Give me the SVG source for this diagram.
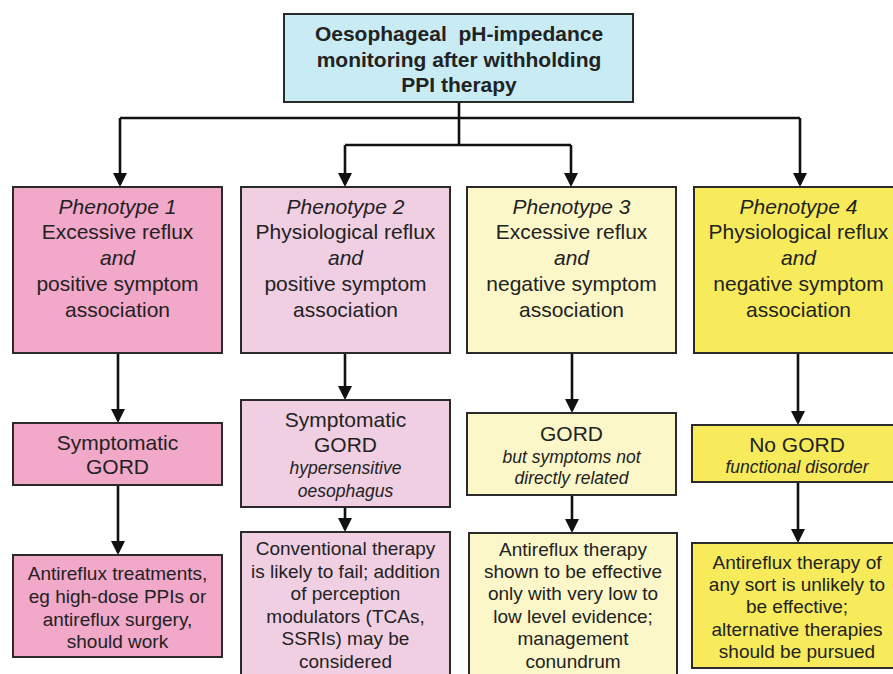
<svg xmlns="http://www.w3.org/2000/svg" width="893" height="674" viewBox="0 0 893 674">
<style>
.box{stroke:#2a2a2a;stroke-width:2}
.t{font-family:"Liberation Sans",Arial,sans-serif;fill:#222;text-anchor:middle}
.b{font-weight:bold;font-size:21px}
.n{font-size:21px}
.i{font-style:italic}
.s{font-size:19px}
.e{font-size:17.5px}
.c{fill:none;stroke:#111;stroke-width:2.6}
.p1{fill:#f2a8c9}.p2{fill:#f1cfe2}.p3{fill:#fbf7c8}.p4{fill:#f7eb5c}.top{fill:#c9ecf4}
</style>
<defs>
<marker id="ah" markerUnits="userSpaceOnUse" markerWidth="14" markerHeight="14" refX="11" refY="7" orient="auto">
<path d="M0,0 L14,7 L0,14 z" fill="#111"/>
</marker>
</defs>
<rect width="893" height="674" fill="#fff"/>

<g id="connectors">
<path class="c" d="M459,102 V145 M120,118 H800 M345,145 H571"/>
<path class="c" d="M120,118 V184" marker-end="url(#ah)"/>
<path class="c" d="M800,118 V184" marker-end="url(#ah)"/>
<path class="c" d="M345,145 V184" marker-end="url(#ah)"/>
<path class="c" d="M571,145 V184" marker-end="url(#ah)"/>
<path class="c" d="M118,353 V420" marker-end="url(#ah)"/>
<path class="c" d="M345,353 V397" marker-end="url(#ah)"/>
<path class="c" d="M572,353 V410" marker-end="url(#ah)"/>
<path class="c" d="M798,353 V422" marker-end="url(#ah)"/>
<path class="c" d="M118,485 V552" marker-end="url(#ah)"/>
<path class="c" d="M345,507 V529" marker-end="url(#ah)"/>
<path class="c" d="M572,495 V530" marker-end="url(#ah)"/>
<path class="c" d="M798,482 V540" marker-end="url(#ah)"/>
</g>

<g id="top">
<rect class="box top" x="284" y="14" width="349" height="88"/>
<text class="t b" x="459" y="41">Oesophageal&#160; pH-impedance</text>
<text class="t b" x="459" y="67">monitoring after withholding</text>
<text class="t b" x="459" y="92">PPI therapy</text>
</g>

<g id="phenotype1">
<rect class="box p1" x="13" y="187" width="209" height="166"/>
<text class="t n i" x="117.5" y="214">Phenotype 1</text>
<text class="t n" x="117.5" y="239">Excessive reflux</text>
<text class="t n i" x="117.5" y="265">and</text>
<text class="t n" x="117.5" y="291">positive symptom</text>
<text class="t n" x="117.5" y="317">association</text>
</g>
<g id="phenotype2">
<rect class="box p2" x="241" y="187" width="209" height="166"/>
<text class="t n i" x="345.5" y="214">Phenotype 2</text>
<text class="t n" x="345.5" y="239">Physiological reflux</text>
<text class="t n i" x="345.5" y="265">and</text>
<text class="t n" x="345.5" y="291">positive symptom</text>
<text class="t n" x="345.5" y="317">association</text>
</g>
<g id="phenotype3">
<rect class="box p3" x="467" y="187" width="209" height="166"/>
<text class="t n i" x="571.5" y="214">Phenotype 3</text>
<text class="t n" x="571.5" y="239">Excessive reflux</text>
<text class="t n i" x="571.5" y="265">and</text>
<text class="t n" x="571.5" y="291">negative symptom</text>
<text class="t n" x="571.5" y="317">association</text>
</g>
<g id="phenotype4">
<rect class="box p4" x="694" y="187" width="215" height="166"/>
<text class="t n i" x="798.5" y="214">Phenotype 4</text>
<text class="t n" x="798.5" y="239">Physiological reflux</text>
<text class="t n i" x="798.5" y="265">and</text>
<text class="t n" x="798.5" y="291">negative symptom</text>
<text class="t n" x="798.5" y="317">association</text>
</g>

<g id="dx1">
<rect class="box p1" x="13" y="423" width="209" height="62"/>
<text class="t n" x="117.5" y="450">Symptomatic</text>
<text class="t n" x="117.5" y="474">GORD</text>
</g>
<g id="dx2">
<rect class="box p2" x="241" y="400" width="209" height="107"/>
<text class="t n" x="345.5" y="427">Symptomatic</text>
<text class="t n" x="345.5" y="452">GORD</text>
<text class="t e i" x="345.5" y="474">hypersensitive</text>
<text class="t e i" x="345.5" y="497">oesophagus</text>
</g>
<g id="dx3">
<rect class="box p3" x="467" y="413" width="209" height="82"/>
<text class="t n" x="571.5" y="441">GORD</text>
<text class="t e i" x="571.5" y="463">but symptoms not</text>
<text class="t e i" x="571.5" y="484">directly related</text>
</g>
<g id="dx4">
<rect class="box p4" x="692" y="425" width="217" height="57"/>
<text class="t n" x="797" y="452">No GORD</text>
<text class="t e i" x="797" y="473">functional disorder</text>
</g>

<g id="tx1">
<rect class="box p1" x="13" y="555" width="209" height="102"/>
<text class="t s" x="117.5" y="580">Antireflux treatments,</text>
<text class="t s" x="117.5" y="603">eg high-dose PPIs or</text>
<text class="t s" x="117.5" y="626">antireflux surgery,</text>
<text class="t s" x="117.5" y="648">should work</text>
</g>
<g id="tx2">
<rect class="box p2" x="241" y="532" width="209" height="150"/>
<text class="t s" x="345.5" y="555">Conventional therapy</text>
<text class="t s" x="345.5" y="578">is likely to fail; addition</text>
<text class="t s" x="345.5" y="600">of perception</text>
<text class="t s" x="345.5" y="623">modulators (TCAs,</text>
<text class="t s" x="345.5" y="645">SSRIs) may be</text>
<text class="t s" x="345.5" y="668">considered</text>
</g>
<g id="tx3">
<rect class="box p3" x="469" y="533" width="208" height="150"/>
<text class="t s" x="573" y="556">Antireflux therapy</text>
<text class="t s" x="573" y="578">shown to be effective</text>
<text class="t s" x="573" y="600">only with very low to</text>
<text class="t s" x="573" y="623">low level evidence;</text>
<text class="t s" x="573" y="645">management</text>
<text class="t s" x="573" y="668">conundrum</text>
</g>
<g id="tx4">
<rect class="box p4" x="692" y="543" width="217" height="125"/>
<text class="t s" x="797" y="569">Antireflux therapy of</text>
<text class="t s" x="797" y="591">any sort is unlikely to</text>
<text class="t s" x="797" y="613">be effective;</text>
<text class="t s" x="797" y="636">alternative therapies</text>
<text class="t s" x="797" y="658">should be pursued</text>
</g>
</svg>
